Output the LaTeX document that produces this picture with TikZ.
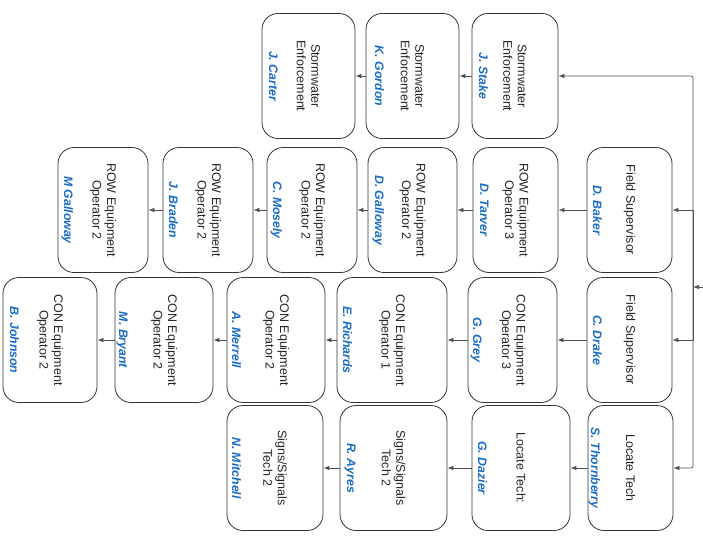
\documentclass[tikz,border=0pt]{standalone}
\usepackage{fontspec}
\setmainfont{Liberation Sans}
\usetikzlibrary{arrows.meta,calc}
\definecolor{nameblue}{RGB}{24,108,198}
\definecolor{linkgray}{RGB}{80,80,92}
\tikzset{>={Latex[length=6pt,width=4.5pt]}}

\begin{document}
\begin{tikzpicture}[x=1pt,y=-1pt,
    member/.style={draw=black!80,line width=0.8pt,fill=white,rounded corners=16pt,
      rotate=-90,minimum width=125pt,minimum height=#1,align=center,inner sep=3pt,
      font=\fontsize{12.5}{14.5}\selectfont,text=black!85},
    member/.default=86pt,
    staff/.style={rotate=-90,inner sep=0pt,text height=8.8pt,text depth=0pt,
      font=\fontsize{12.3}{14}\selectfont\bfseries\itshape,text=nameblue},
    link/.style={->,draw=linkgray,line width=0.7pt}]
  \useasboundingbox (0,0) rectangle (703,550);

  \node[member] (stake) at (515,76) {Stormwater\\Enforcement};
  \node[member=93pt] (gordon) at (412.5,76) {Stormwater\\Enforcement};
  \node[member=93pt] (carter) at (308.5,76) {Stormwater\\Enforcement};

  \node[member=85pt] (baker) at (629.5,210) {Field Supervisor};
  \node[member=85pt] (tarver) at (515.5,210) {ROW Equipment\\Operator 3};
  \node[member=89pt] (dgalloway) at (412.5,210) {ROW Equipment\\Operator 2};
  \node[member=90pt] (mosely) at (312,210) {ROW Equipment\\Operator 2};
  \node[member=90pt] (braden) at (208,210) {ROW Equipment\\Operator 2};
  \node[member=90pt] (mgalloway) at (103,210) {ROW Equipment\\Operator 2};

  \node[member=85pt] (drake) at (629.5,340) {Field Supervisor};
  \node[member=89pt] (grey) at (512.5,340) {CON Equipment\\Operator 3};
  \node[member=110pt] (richards) at (392,340) {CON Equipment\\Operator 1};
  \node[member=98pt] (merrell) at (276,340) {CON Equipment\\Operator 2};
  \node[member=98pt] (bryant) at (164,340) {CON Equipment\\Operator 2};
  \node[member=94pt] (johnson) at (50,340) {CON Equipment\\Operator 2};

  \node[member=85pt] (thornberry) at (630.5,468) {Locate Tech};
  \node[member=98pt] (dazier) at (521,468) {Locate Tech:};
  \node[member=107pt] (ayres) at (393.5,468) {Signs/Signals\\Tech 2};
  \node[member=96pt] (mitchell) at (275,468) {Signs/Signals\\Tech 2};

  \node[staff] (stake-n) at ([xshift=12pt]stake.south) {J. Stake};
  \node[staff] (gordon-n) at ([xshift=14pt]gordon.south) {K. Gordon};
  \node[staff] (carter-n) at ([xshift=12pt]carter.south) {J. Carter};
  \node[staff] (baker-n) at ([xshift=11pt]baker.south) {D. Baker};
  \node[staff] (tarver-n) at ([xshift=12pt]tarver.south) {D. Tarver};
  \node[staff] (dgalloway-n) at ([xshift=12pt]dgalloway.south) {D. Galloway};
  \node[staff] (mosely-n) at ([xshift=11pt]mosely.south) {C. Mosely};
  \node[staff] (braden-n) at ([xshift=11pt]braden.south) {J. Braden};
  \node[staff] (mgalloway-n) at ([xshift=11pt]mgalloway.south) {M Galloway};
  \node[staff] (drake-n) at ([xshift=11pt]drake.south) {C. Drake};
  \node[staff] (grey-n) at ([xshift=10pt]grey.south) {G. Grey};
  \node[staff] (richards-n) at ([xshift=11pt]richards.south) {E. Richards};
  \node[staff] (merrell-n) at ([xshift=10pt]merrell.south) {A. Merrell};
  \node[staff] (bryant-n) at ([xshift=9pt]bryant.south) {M. Bryant};
  \node[staff] (johnson-n) at ([xshift=12pt]johnson.south) {B. Johnson};
  \node[staff] (thornberry-n) at ([xshift=8pt]thornberry.south) {S. Thornberry};
  \node[staff] (dazier-n) at ([xshift=11pt]dazier.south) {G. Dazier};
  \node[staff] (ayres-n) at ([xshift=12pt]ayres.south) {R. Ayres};
  \node[staff] (mitchell-n) at ([xshift=10pt]mitchell.south) {N. Mitchell};

  \coordinate (boss) at (703,287);
  \coordinate (hub) at (693,287);
  \draw[link] (boss) -- (hub);
  \draw[link,rounded corners=2pt] (hub) |- (stake.north);
  \draw[link] (hub) |- (baker.north);
  \draw[link] (hub) |- (drake.north);
  \draw[link,rounded corners=2pt] (hub) |- (thornberry.north);

  \draw[link] (stake.south) -- (gordon.north);
  \draw[link] (gordon.south) -- (carter.north);
  \draw[link] (baker.south) -- (tarver.north);
  \draw[link] (tarver.south) -- (dgalloway.north);
  \draw[link] (dgalloway.south) -- (mosely.north);
  \draw[link] (mosely.south) -- (braden.north);
  \draw[link] (braden.south) -- (mgalloway.north);
  \draw[link] (drake.south) -- (grey.north);
  \draw[link] (grey.south) -- (richards.north);
  \draw[link] (richards.south) -- (merrell.north);
  \draw[link] (merrell.south) -- (bryant.north);
  \draw[link] (bryant.south) -- (johnson.north);
  \draw[link] (thornberry.south) -- (dazier.north);
  \draw[link] (dazier.south) -- (ayres.north);
  \draw[link] (ayres.south) -- (mitchell.north);
\end{tikzpicture}
\end{document}
